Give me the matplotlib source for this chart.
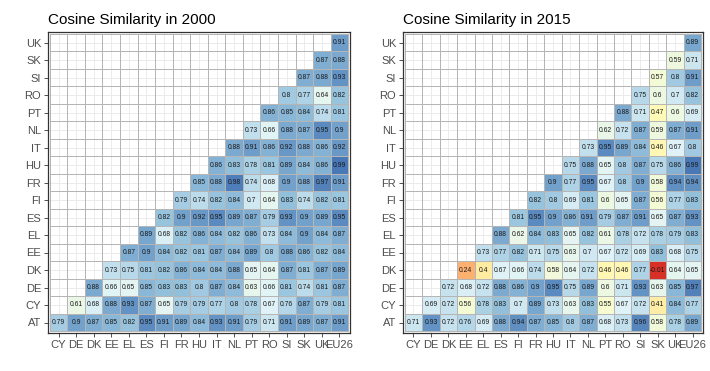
import numpy as np
import matplotlib
matplotlib.use("Agg")
import matplotlib.pyplot as plt
from matplotlib.colors import LinearSegmentedColormap

plt.rcParams['font.family'] = ['Liberation Sans', 'DejaVu Sans']

rows = ["AT", "CY", "DE", "DK", "EE", "EL", "ES", "FI", "FR", "HU", "IT",
        "NL", "PT", "RO", "SI", "SK", "UK"]
cols = ["CY", "DE", "DK", "EE", "EL", "ES", "FI", "FR", "HU", "IT", "NL",
        "PT", "RO", "SI", "SK", "UK", "EU26"]

# Each row lists values from the column matching its position to EU26
sim2000 = {
    "AT": [0.79, 0.9, 0.87, 0.85, 0.82, 0.95, 0.91, 0.89, 0.84, 0.93, 0.91, 0.79, 0.71, 0.91, 0.89, 0.87, 0.91],
    "CY": [0.61, 0.68, 0.88, 0.93, 0.87, 0.65, 0.79, 0.79, 0.77, 0.8, 0.78, 0.67, 0.76, 0.87, 0.79, 0.81],
    "DE": [0.88, 0.66, 0.65, 0.85, 0.83, 0.83, 0.8, 0.87, 0.84, 0.63, 0.66, 0.81, 0.74, 0.81, 0.87],
    "DK": [0.73, 0.75, 0.81, 0.82, 0.86, 0.84, 0.84, 0.88, 0.65, 0.64, 0.87, 0.81, 0.87, 0.89],
    "EE": [0.87, 0.9, 0.84, 0.82, 0.81, 0.87, 0.84, 0.89, 0.8, 0.88, 0.86, 0.82, 0.84],
    "EL": [0.89, 0.68, 0.82, 0.86, 0.84, 0.82, 0.86, 0.73, 0.84, 0.9, 0.84, 0.87],
    "ES": [0.82, 0.9, 0.92, 0.95, 0.89, 0.87, 0.79, 0.93, 0.9, 0.89, 0.95],
    "FI": [0.79, 0.74, 0.82, 0.84, 0.7, 0.64, 0.83, 0.74, 0.82, 0.81],
    "FR": [0.85, 0.88, 0.98, 0.74, 0.68, 0.9, 0.88, 0.97, 0.91],
    "HU": [0.86, 0.83, 0.78, 0.81, 0.89, 0.84, 0.86, 0.99],
    "IT": [0.88, 0.91, 0.86, 0.92, 0.88, 0.86, 0.92],
    "NL": [0.73, 0.66, 0.88, 0.87, 0.95, 0.9],
    "PT": [0.86, 0.85, 0.84, 0.74, 0.81],
    "RO": [0.8, 0.77, 0.64, 0.82],
    "SI": [0.87, 0.88, 0.93],
    "SK": [0.87, 0.88],
    "UK": [0.91],
}

sim2015 = {
    "AT": [0.71, 0.93, 0.72, 0.76, 0.69, 0.88, 0.94, 0.87, 0.85, 0.8, 0.87, 0.68, 0.73, 0.96, 0.58, 0.78, 0.89],
    "CY": [0.69, 0.72, 0.56, 0.78, 0.83, 0.7, 0.89, 0.73, 0.63, 0.83, 0.55, 0.67, 0.72, 0.41, 0.84, 0.77],
    "DE": [0.72, 0.68, 0.72, 0.88, 0.86, 0.9, 0.95, 0.75, 0.89, 0.6, 0.71, 0.93, 0.63, 0.85, 0.97],
    "DK": [0.24, 0.4, 0.67, 0.66, 0.74, 0.58, 0.64, 0.72, 0.46, 0.46, 0.77, -0.01, 0.64, 0.65],
    "EE": [0.73, 0.77, 0.82, 0.71, 0.75, 0.63, 0.7, 0.67, 0.72, 0.69, 0.83, 0.68, 0.75],
    "EL": [0.88, 0.62, 0.84, 0.83, 0.65, 0.82, 0.61, 0.78, 0.72, 0.78, 0.79, 0.83],
    "ES": [0.81, 0.95, 0.9, 0.86, 0.91, 0.79, 0.87, 0.91, 0.65, 0.87, 0.93],
    "FI": [0.82, 0.8, 0.69, 0.81, 0.6, 0.65, 0.87, 0.56, 0.77, 0.83],
    "FR": [0.9, 0.77, 0.95, 0.67, 0.8, 0.9, 0.58, 0.94, 0.94],
    "HU": [0.75, 0.88, 0.65, 0.8, 0.87, 0.75, 0.86, 0.99],
    "IT": [0.73, 0.95, 0.89, 0.84, 0.46, 0.67, 0.8],
    "NL": [0.62, 0.72, 0.87, 0.59, 0.87, 0.91],
    "PT": [0.88, 0.71, 0.47, 0.6, 0.69],
    "RO": [0.75, 0.6, 0.7, 0.82],
    "SI": [0.57, 0.8, 0.91],
    "SK": [0.59, 0.71],
    "UK": [0.89],
}

titles = ["Cosine Similarity in 2000", "Cosine Similarity in 2015"]

palette = ['#d73027', '#fc8d59', '#fee090', '#ffffbf', '#e0f3f8', '#91bfdb', '#4575b4']
cmap = LinearSegmentedColormap.from_list("rdylbu7", palette)


def to_matrix(d):
    n_r, n_c = len(rows), len(cols)
    m = np.full((n_r, n_c), np.nan)
    for i, r in enumerate(rows):
        vals = d[r]
        start = n_c - len(vals)
        m[i, start:] = vals
    return m


fig = plt.figure(figsize=(7.1, 3.71), dpi=100)
fig.patch.set_facecolor('white')

positions = [[48/710, 1-333/371, 302/710, 301/371],
             [403/710, 1-333/371, 300/710, 301/371]]

for pos, data, title in zip(positions, [sim2000, sim2015], titles):
    ax = fig.add_axes(pos)
    m = to_matrix(data)
    xe = np.arange(len(cols) + 1) - 0.5
    ye = np.arange(len(rows) + 1) - 0.5
    ax.set_axisbelow(True)
    ax.grid(True, color='#ebebeb', linewidth=0.7, zorder=0)
    ax.pcolormesh(xe, ye, np.ma.masked_invalid(m), cmap=cmap, vmin=0, vmax=1,
                  edgecolors='#b5b5b5', linewidth=0.7, zorder=2)
    for i in range(len(rows)):
        for j in range(len(cols)):
            v = m[i, j]
            if not np.isnan(v):
                ax.text(j, i, f"{round(v, 2):g}", ha='center', va='center',
                        fontsize=4.9, color='#1a1a1a', zorder=3)
    ax.set_xlim(-0.6, len(cols) - 0.4)
    ax.set_ylim(-0.6, len(rows) - 0.4)
    ax.set_xticks(range(len(cols)))
    ax.set_xticklabels(cols)
    ax.set_yticks(range(len(rows)))
    ax.set_yticklabels(rows)
    ax.tick_params(axis='both', length=3, width=0.6, color='#333333',
                   labelsize=8, labelcolor='#4d4d4d', pad=2)
    for s in ax.spines.values():
        s.set_color('#333333')
        s.set_linewidth(0.9)
    ax.set_title(title, loc='left', fontsize=11, pad=6, color='black')

fig.savefig("out.png", dpi=100, facecolor='white')
